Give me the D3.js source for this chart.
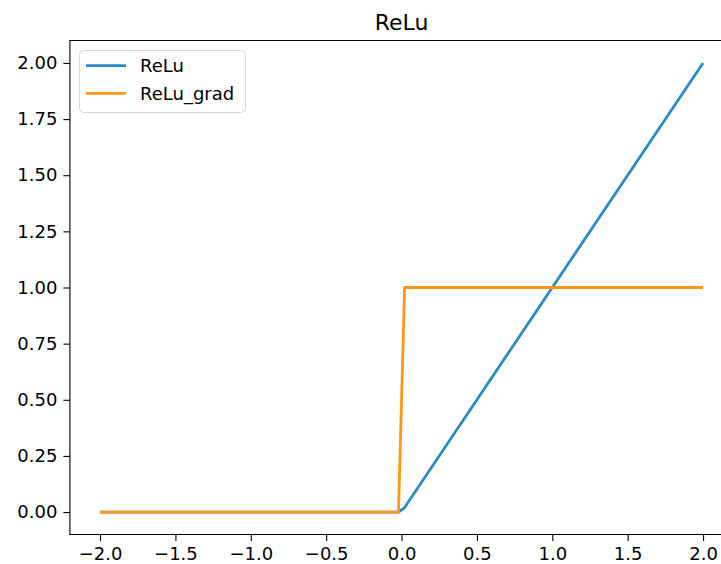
<!DOCTYPE html>
<html lang="en">
<head>
<meta charset="UTF-8">
<title>ReLu</title>
<script src="https://d3js.org/d3.v7.min.js"></script>
<style>
    body { margin: 0; background: #fff; }
    svg { display: block; font-family: "DejaVu Sans", sans-serif; }
    .tick text { font-size: 18px; fill: #000; }
    .tick line { stroke: #000; stroke-width: 1.1px; }
    .domain { display: none; }
</style>
</head>
<body>
<svg id="chart"></svg>
<script>
    // sample points, x = linspace(-2, 2, 100) -- only the points where the lines bend
    const xs = [-2.0, -0.0202, 0.0202, 2.0];
    const relu = [0, 0, 0.0202, 2.0];
    const reluGrad = [0, 0, 1, 1];

    const xTicks = [-2.0, -1.5, -1.0, -0.5, 0.0, 0.5, 1.0, 1.5, 2.0];
    const yTicks = [0.00, 0.25, 0.50, 0.75, 1.00, 1.25, 1.50, 1.75, 2.00];

    const seriesNames = ["ReLu", "ReLu_grad"];
    const colors = ["#2a8bc5", "#ff9616"];

    const W = 721, H = 564;
    const margin = { top: 40.5, left: 69.9, bottom: 29.5 };
    const plotW = 663.3;  // axes run past the right edge of the picture
    const plotH = H - margin.top - margin.bottom;

    const svg = d3.select("#chart").attr("width", W).attr("height", H);

    const x = d3.scaleLinear().domain([-2.2, 2.2]).range([margin.left, margin.left + plotW]);
    const y = d3.scaleLinear().domain([-0.1, 2.1]).range([margin.top + plotH, margin.top]);

    // axes
    svg.append("g")
        .attr("transform", `translate(0,${margin.top + plotH})`)
        .call(d3.axisBottom(x).tickValues(xTicks).tickSize(6.5).tickPadding(6)
            .tickFormat(d => d3.format(".1f")(d).replace("-", "\u2212")));

    svg.append("g")
        .attr("transform", `translate(${margin.left},0)`)
        .call(d3.axisLeft(y).tickValues(yTicks).tickSize(6.5).tickPadding(6)
            .tickFormat(d3.format(".2f")));

    svg.selectAll(".tick text").attr("font-family", "DejaVu Sans");

    // lines
    const series = [relu, reluGrad];
    const line = d3.line().x((d, i) => x(xs[i])).y(d => y(d));
    series.forEach((s, k) => {
        svg.append("path")
            .datum(s)
            .attr("fill", "none")
            .attr("stroke", colors[k])
            .attr("stroke-width", 2.8)
            .attr("stroke-linejoin", "round")
            .attr("stroke-linecap", "butt")
            .attr("d", line);
    });

    // spines (left, top, bottom; right one is off the picture)
    const spine = svg.append("g").attr("stroke", "#000").attr("stroke-width", 1.1).attr("fill", "none");
    spine.append("path")
        .attr("d", `M${W + 5},${margin.top}H${margin.left}V${margin.top + plotH}H${W + 5}`);

    // title
    svg.append("text")
        .attr("x", margin.left + plotW / 2)
        .attr("y", 30)
        .attr("text-anchor", "middle")
        .attr("font-size", 22)
        .text("ReLu");

    // legend
    const legend = svg.append("g");
    legend.append("rect")
        .attr("x", 79.5).attr("y", 50.5)
        .attr("width", 166).attr("height", 62)
        .attr("rx", 4)
        .attr("fill", "#fff").attr("fill-opacity", 0.8)
        .attr("stroke", "#d6d6d6").attr("stroke-width", 1);
    seriesNames.forEach((name, k) => {
        const ly = 65.7 + k * 27.6;
        legend.append("line")
            .attr("x1", 86).attr("x2", 126)
            .attr("y1", ly).attr("y2", ly)
            .attr("stroke", colors[k]).attr("stroke-width", 2.8);
        legend.append("text")
            .attr("x", 140).attr("y", ly + 6.5)
            .attr("font-size", 18)
            .text(name);
    });
</script>
</body>
</html>
